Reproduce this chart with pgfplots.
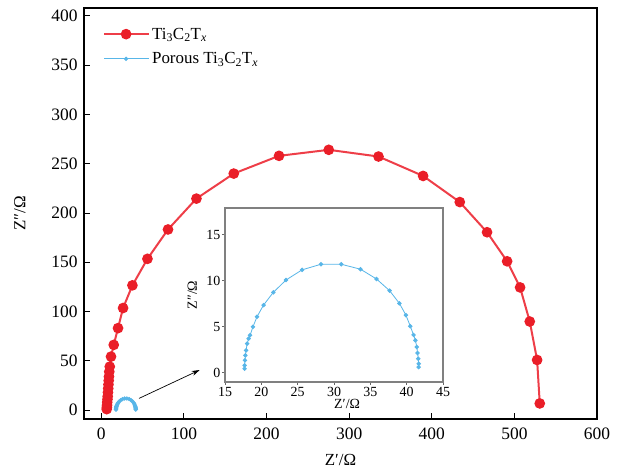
\documentclass[border=0pt]{standalone}
\usepackage{fontspec}
\setmainfont{Liberation Serif}
\usepackage{pgfplots}
\pgfplotsset{compat=1.18}
\usetikzlibrary{arrows.meta}

\definecolor{tcred}{RGB}{234,30,40}
\definecolor{tcredline}{RGB}{238,62,72}
\definecolor{tcblue}{RGB}{88,182,232}

\newcommand{\tic}{Ti\textsubscript{3}C\textsubscript{2}T\textsubscript{\textit{x}}}

\begin{document}
\begin{tikzpicture}
\begin{axis}[
  name=main, at={(0,0)}, anchor=south west,
  scale only axis, width=513bp, height=411bp, clip=false,
  xmin=-21, xmax=600, ymin=-9, ymax=408,
  xtick={0,100,...,600}, ytick={0,50,...,400},
  tick pos=left, tick align=inside, major tick length=6bp,
  axis line style={line width=1.2bp},
  tick style={line width=1bp, black},
  /pgf/number format/assume math mode=true,
  ticklabel style={font=\fontsize{17.5}{20}\selectfont},
  xticklabel style={yshift=-5bp},
  yticklabel style={xshift=-3bp},
  xlabel={Z′/Ω},
  label style={font=\fontsize{17}{20}\selectfont},
  xlabel style={at={(axis description cs:0.5,-0.0998)}, anchor=center},
  legend style={at={(axis description cs:0.031,0.962)}, anchor=north west,
    draw=none, fill=none, font=\fontsize{17}{20}\selectfont, row sep=8bp},
  legend cell align=left,
  legend image code/.code={\draw[mark repeat=2,mark phase=2] plot coordinates {(0bp,0bp) (22bp,0bp) (45bp,0bp)};},
]
\addplot[color=tcredline, line width=2bp, mark=*, mark size=4.3bp,
  mark options={fill=tcred, draw=tcred}] coordinates {
(6.5,1) (6.7,3) (6.9,5) (7.1,8) (7.4,11) (7.7,14) (8.0,18) (8.3,22)
(8.6,26) (8.9,30) (9.2,34) (9.6,39) (10.2,44.1) (11.7,54.3) (15.0,66.2)
(20.2,83.2) (26.3,103.6) (37.6,126.6) (55.8,153.5) (80.7,183.3)
(115.1,214.6) (160.3,240.0) (215.1,258.0) (275.3,264.1) (335.5,257.3)
(389.5,237.6) (433.9,211.1) (466.9,180.5) (491.2,151.0) (506.9,124.5)
(518.6,89.9) (527.5,50.9) (530.7,6.8)
};
\addlegendentry{\tic}

\addplot[color=tcblue, line width=0.8bp, mark=*, mark size=1.7bp,
  mark options={fill=tcblue, draw=tcblue}] coordinates {
(17.7,0.44) (17.7,0.80) (17.75,1.35) (17.8,1.89) (17.9,2.44) (18.05,3.17)
(18.25,3.71) (18.45,4.08) (18.85,4.99) (19.4,6.08) (20.3,7.35) (21.65,8.74)
(23.4,10.08) (25.6,11.18) (28.2,11.79) (31.0,11.79) (33.65,11.25)
(35.85,10.19) (37.65,8.92) (39.0,7.54) (39.9,6.26) (40.5,5.06) (40.95,4.11)
(41.2,3.53) (41.4,2.80) (41.5,2.15) (41.6,1.53) (41.65,0.98) (41.65,0.62)
};
\addlegendentry{Porous \tic}

\draw[-{Stealth[length=8bp,width=5bp]}, line width=0.7bp]
  (axis cs:45.6,11.9) -- (axis cs:119,40.7);
\node[rotate=90, font=\fontsize{17}{20}\selectfont]
  at (axis description cs:-0.1248,0.5) {Z″/Ω};
\end{axis}

\begin{axis}[
  at={(141bp,37bp)}, anchor=south west,
  scale only axis, width=218bp, height=174bp, clip=false,
  xmin=15, xmax=45, ymin=-1, ymax=17.9,
  xtick={15,20,...,45}, ytick={0,5,10,15},
  tick pos=left, tick align=outside, major tick length=3bp,
  axis background/.style={fill=white},
  axis line style={draw=gray, line width=1.1bp},
  tick style={draw=gray!80!black, line width=0.8bp},
  /pgf/number format/assume math mode=true,
  ticklabel style={font=\fontsize{14}{16}\selectfont},
  yticklabel style={inner sep=1.5bp},
  xticklabel style={inner sep=2bp},
  xlabel={Z′/Ω},
  label style={font=\fontsize{14}{16}\selectfont},
  xlabel style={at={(axis description cs:0.56,-0.128)}, anchor=center},
]
\addplot[color=tcblue, line width=0.8bp, mark=*, mark size=1.8bp,
  mark options={fill=tcblue, draw=tcblue}] coordinates {
(17.7,0.44) (17.7,0.80) (17.75,1.35) (17.8,1.89) (17.9,2.44) (18.05,3.17)
(18.25,3.71) (18.45,4.08) (18.85,4.99) (19.4,6.08) (20.3,7.35) (21.65,8.74)
(23.4,10.08) (25.6,11.18) (28.2,11.79) (31.0,11.79) (33.65,11.25)
(35.85,10.19) (37.65,8.92) (39.0,7.54) (39.9,6.26) (40.5,5.06) (40.95,4.11)
(41.2,3.53) (41.4,2.80) (41.5,2.15) (41.6,1.53) (41.65,0.98) (41.65,0.62)
};
\node[rotate=90, font=\fontsize{14}{16}\selectfont]
  at (axis description cs:-0.15,0.5) {Z″/Ω};
\end{axis}

\path (-84bp,-53bp) rectangle (543bp,419bp);
\end{tikzpicture}
\end{document}
